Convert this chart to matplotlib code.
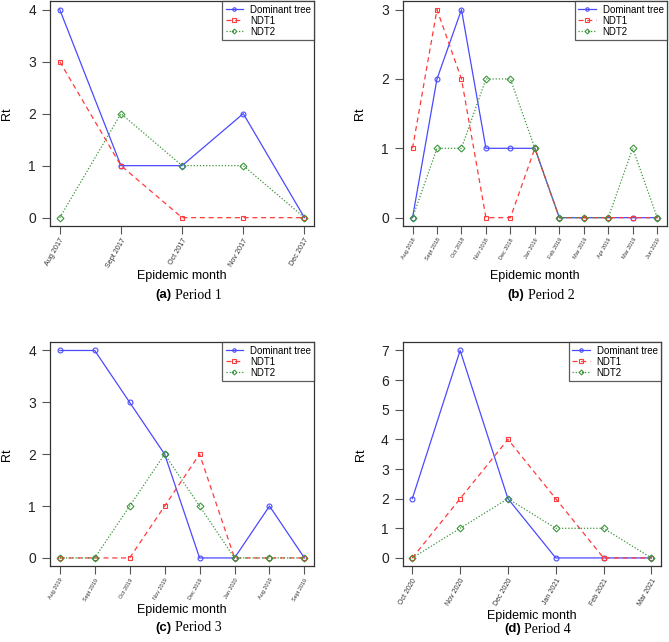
import numpy as np
import matplotlib.pyplot as plt

plt.rcParams['font.family'] = ['Liberation Sans', 'DejaVu Sans']

# Period 1
months_p1 = ["Aug 2017", "Sept 2017", "Oct 2017", "Nov 2017", "Dec 2017"]
dom_p1 = [4, 1, 1, 2, 0]
ndt1_p1 = [3, 1, 0, 0, 0]
ndt2_p1 = [0, 2, 1, 1, 0]

# Period 2
months_p2 = ["Aug 2018", "Sept 2018", "Oct 2018", "Nov 2018", "Dec 2018", "Jan 2019",
             "Feb 2019", "Mar 2019", "Apr 2019", "Mar 2019", "Jun 2019"]
dom_p2 = [0, 2, 3, 1, 1, 1, 0, 0, 0, 0, 0]
ndt1_p2 = [1, 3, 2, 0, 0, 1, 0, 0, 0, 0, 0]
ndt2_p2 = [0, 1, 1, 2, 2, 1, 0, 0, 0, 1, 0]

# Period 3
months_p3 = ["Aug 2019", "Sept 2019", "Oct 2019", "Nov 2019", "Dec 2019", "Jan 2020",
             "Aug 2019", "Sept 2019"]
dom_p3 = [4, 4, 3, 2, 0, 0, 1, 0]
ndt1_p3 = [0, 0, 0, 1, 2, 0, 0, 0]
ndt2_p3 = [0, 0, 1, 2, 1, 0, 0, 0]

# Period 4
months_p4 = ["Oct 2020", "Nov 2020", "Dec 2020", "Jan 2021", "Feb 2021", "Mar 2021"]
dom_p4 = [2, 7, 2, 0, 0, 0]
ndt1_p4 = [0, 2, 4, 2, 0, 0]
ndt2_p4 = [0, 1, 2, 1, 1, 0]

blue = '#4a4aff'
red = '#ff3b3b'
green = '#3c963c'

fig = plt.figure(figsize=(6.69, 6.42), dpi=100)

# months, series, axes rect, tick font, xlabel offset, caption y, tag, title
panels = [
    (months_p1, dom_p1, ndt1_p1, ndt2_p1, [0.0747, 0.648, 0.395, 0.350], 5.2, -0.222, 0.540, "(a)", "Period 1"),
    (months_p2, dom_p2, ndt1_p2, ndt2_p2, [0.602, 0.648, 0.395, 0.350], 4.0, -0.222, 0.540, "(b)", "Period 2"),
    (months_p3, dom_p3, ndt1_p3, ndt2_p3, [0.0747, 0.118, 0.395, 0.349], 4.0, -0.196, 0.022, "(c)", "Period 3"),
    (months_p4, dom_p4, ndt1_p4, ndt2_p4, [0.602, 0.118, 0.386, 0.349], 5.0, -0.222, 0.020, "(d)", "Period 4"),
]

for months, dom, ndt1, ndt2, rect, tfs, xl_y, cap_y, tag, title in panels:
    ax = fig.add_axes(rect)
    x = np.arange(len(months))
    ax.plot(x, dom, color=blue, lw=0.9, marker='o', ms=3.5, mfc='none', mew=0.8,
            label="Dominant tree")
    ax.plot(x, ndt1, color=red, lw=0.9, ls=(0, (4, 3)), marker='s', ms=3.5, mfc='none',
            mew=0.8, label="NDT1")
    ax.plot(x, ndt2, color=green, lw=0.9, ls=(0, (1, 1.5)), marker='D', ms=3.5, mfc='none',
            mew=0.8, label="NDT2")
    ymax = max(max(dom), max(ndt1), max(ndt2))
    n = len(months) - 1
    ax.set_xlim(-0.04 * n, n * 1.04)
    ax.set_ylim(-0.04 * ymax, ymax * 1.04)
    ax.set_yticks(range(ymax + 1))
    ax.set_xticks(x)
    ax.set_xticklabels(months, rotation=60, ha='right', va='top', rotation_mode='anchor',
                       fontsize=tfs, color='#333333')
    ax.tick_params(axis='y', labelsize=10, direction='out', length=6, width=0.8,
                   colors='#555555', labelcolor='#222222', pad=4)
    ax.tick_params(axis='x', direction='out', length=6, width=0.8, colors='#555555',
                   pad=2, labelcolor='#333333')
    for s in ax.spines.values():
        s.set_color('#333333')
        s.set_linewidth(0.9)
    ax.set_ylabel("Rt", fontsize=9)
    ax.yaxis.set_label_coords(-0.14, 0.5)
    ax.set_xlabel("Epidemic month", fontsize=9)
    ax.xaxis.set_label_coords(0.5, xl_y)
    ax.xaxis.label.set_va('center')
    leg = ax.legend(loc='upper right', fontsize=7, frameon=True, fancybox=False,
                    borderaxespad=0, handlelength=1.8, borderpad=0.35, labelspacing=0.1,
                    handletextpad=0.7, markerscale=0.7)
    leg.get_frame().set_edgecolor('#333333')
    leg.get_frame().set_linewidth(0.9)
    # caption under the panel
    cx = rect[0] + rect[2] / 2
    fig.text(cx - 0.016, cap_y, tag, ha='right', va='center', fontsize=9.5, fontweight='bold')
    fig.text(cx - 0.011, cap_y, title, ha='left', va='center', fontsize=10,
             family='Liberation Serif')

fig.savefig("out.png", dpi=100)
